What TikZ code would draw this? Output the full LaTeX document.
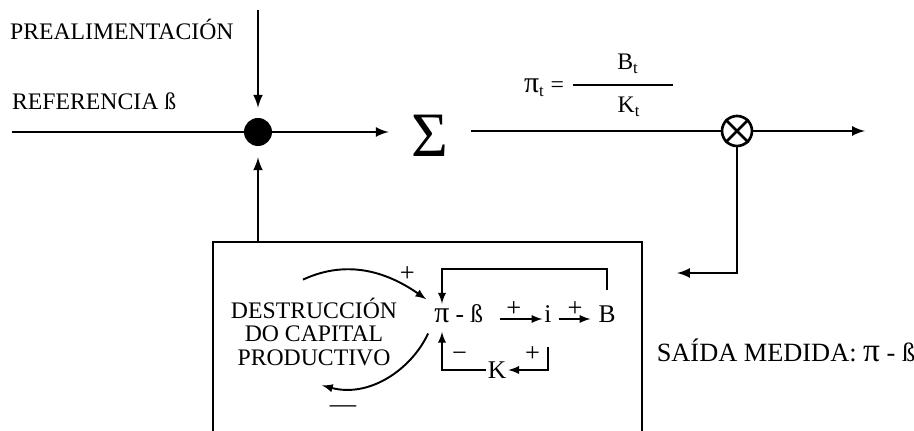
\documentclass[tikz,border=0pt]{standalone}
\usepackage{fontspec}
\setmainfont{Liberation Serif}
\usetikzlibrary{positioning}
\newcommand{\bigpi}[1]{{\fontsize{#1}{#1}\selectfont π}}

\begin{document}
\begin{tikzpicture}[x=0.02cm, y=-0.02cm,
    tx/.style={font=\fontsize{13.5}{13.6}\selectfont, inner sep=1pt},
    sm/.style={tx, font=\fontsize{14.5}{14.5}\selectfont, text height=9.5pt, text depth=0pt},
    pl/.style={font=\fontsize{15}{15}\selectfont, inner sep=1pt},
    ar/.style={->, >=latex, line width=1.1pt},
    mar/.style={->, >=latex, line width=1.5pt},
    ln/.style={line width=1.5pt}]
\useasboundingbox[fill=white] (0,0) rectangle (914,431);
% lazo exterior
\coordinate (in) at (12,132);
\coordinate (pre) at (258,10);
\coordinate (bt) at (258,242);
\coordinate (out) at (865,131);
\coordinate (fb) at (677,273);
\node[circle, fill=black, minimum size=0.56cm, inner sep=0pt] (dot) at (258,132) {};
\node[tx, anchor=west] (preal) at (8,29) {PREALIMENTACIÓN};
\node[tx, anchor=west] (ref) at (10,101) {REFERENCIA ß};
\node[font=\fontsize{36}{36}\selectfont, inner sep=0.45cm] (sig) at (430,136) {Σ};
\node[circle, draw, line width=1.5pt, minimum size=0.6cm, inner sep=0pt] (ot) at (737,131) {};
\node[tx, anchor=east] (pit) at (566,88) {\bigpi{17}\textsubscript{t} =};
\node[tx] (Bt) at (628,64) {B\textsubscript{t}};
\node[tx] (Kt) at (629,107) {K\textsubscript{t}};
\node[tx, font=\fontsize{15}{15}\selectfont] (sal) at (786,350) {SAÍDA MEDIDA: \bigpi{19} - ß};
\draw[line width=0.8pt] (573,85) -- (673,85);
\draw[ln] (in) -- (dot);
\draw[mar, shorten >=0.2cm] (pre) -- (dot);
\draw[mar] (dot) -- (dot -| sig.west);
\draw[ln] (sig.east |- ot) -- (ot);
\draw[mar] (ot) -- (out);
\draw[mar] (ot) |- (fb);
\draw[ln] (ot.45) -- (ot.225) (ot.135) -- (ot.315);
\draw[mar, shorten >=0.22cm] (bt) -- (dot);
% caja del sistema
\draw[line width=1.1pt] (213,431) -- (213,242) -- (642,242) -- (642,431);
\node[tx, align=center] (dest) at (314,332) {DESTRUCCIÓN\\DO CAPITAL\\PRODUCTIVO};
\node[sm] (pi) at (442,314) {\bigpi{17}};
\node[sm, right=1pt of pi] (mb) {- ß};
\node[sm] (i) at (548,314) {i};
\node[sm] (B) at (607,314) {B};
\node[sm] (K) at (497,370) {K};
\draw[ar, shorten <=0.3cm] ([yshift=-0.1cm]mb.east) -- node[pl, above] {+} ([yshift=-0.1cm]i.west);
\draw[ar, shorten <=0.1cm, shorten >=0.12cm] ([yshift=-0.1cm]i.east) -- node[pl, above] {+} ([yshift=-0.1cm]B.west);
\draw[ar] ([yshift=0.28cm]B.north) -- ++(0,-21) -| (pi.north);
\draw[ar] ([yshift=-0.45cm]i.south) |- node[pl, pos=0.15, left=3pt] {+} (K.east);
\draw[ar] (K.west) -| node[pl, pos=0.3, above=0.12cm] {−} ([yshift=-0.15cm]pi.south);
\draw[ar, shorten >=0.15cm] ([shift={(-11,-16)}]dest.north) to[out=25, in=145]
    node[pl, pos=0.8, above=2pt] {+} (pi.north west);
\draw[ar, shorten <=0.2cm] (pi.south west) to[out=245, in=-15]
    node[pl, pos=0.85, below=0.3cm] {—} ([shift={(8,17)}]dest.south);
\end{tikzpicture}
\end{document}
